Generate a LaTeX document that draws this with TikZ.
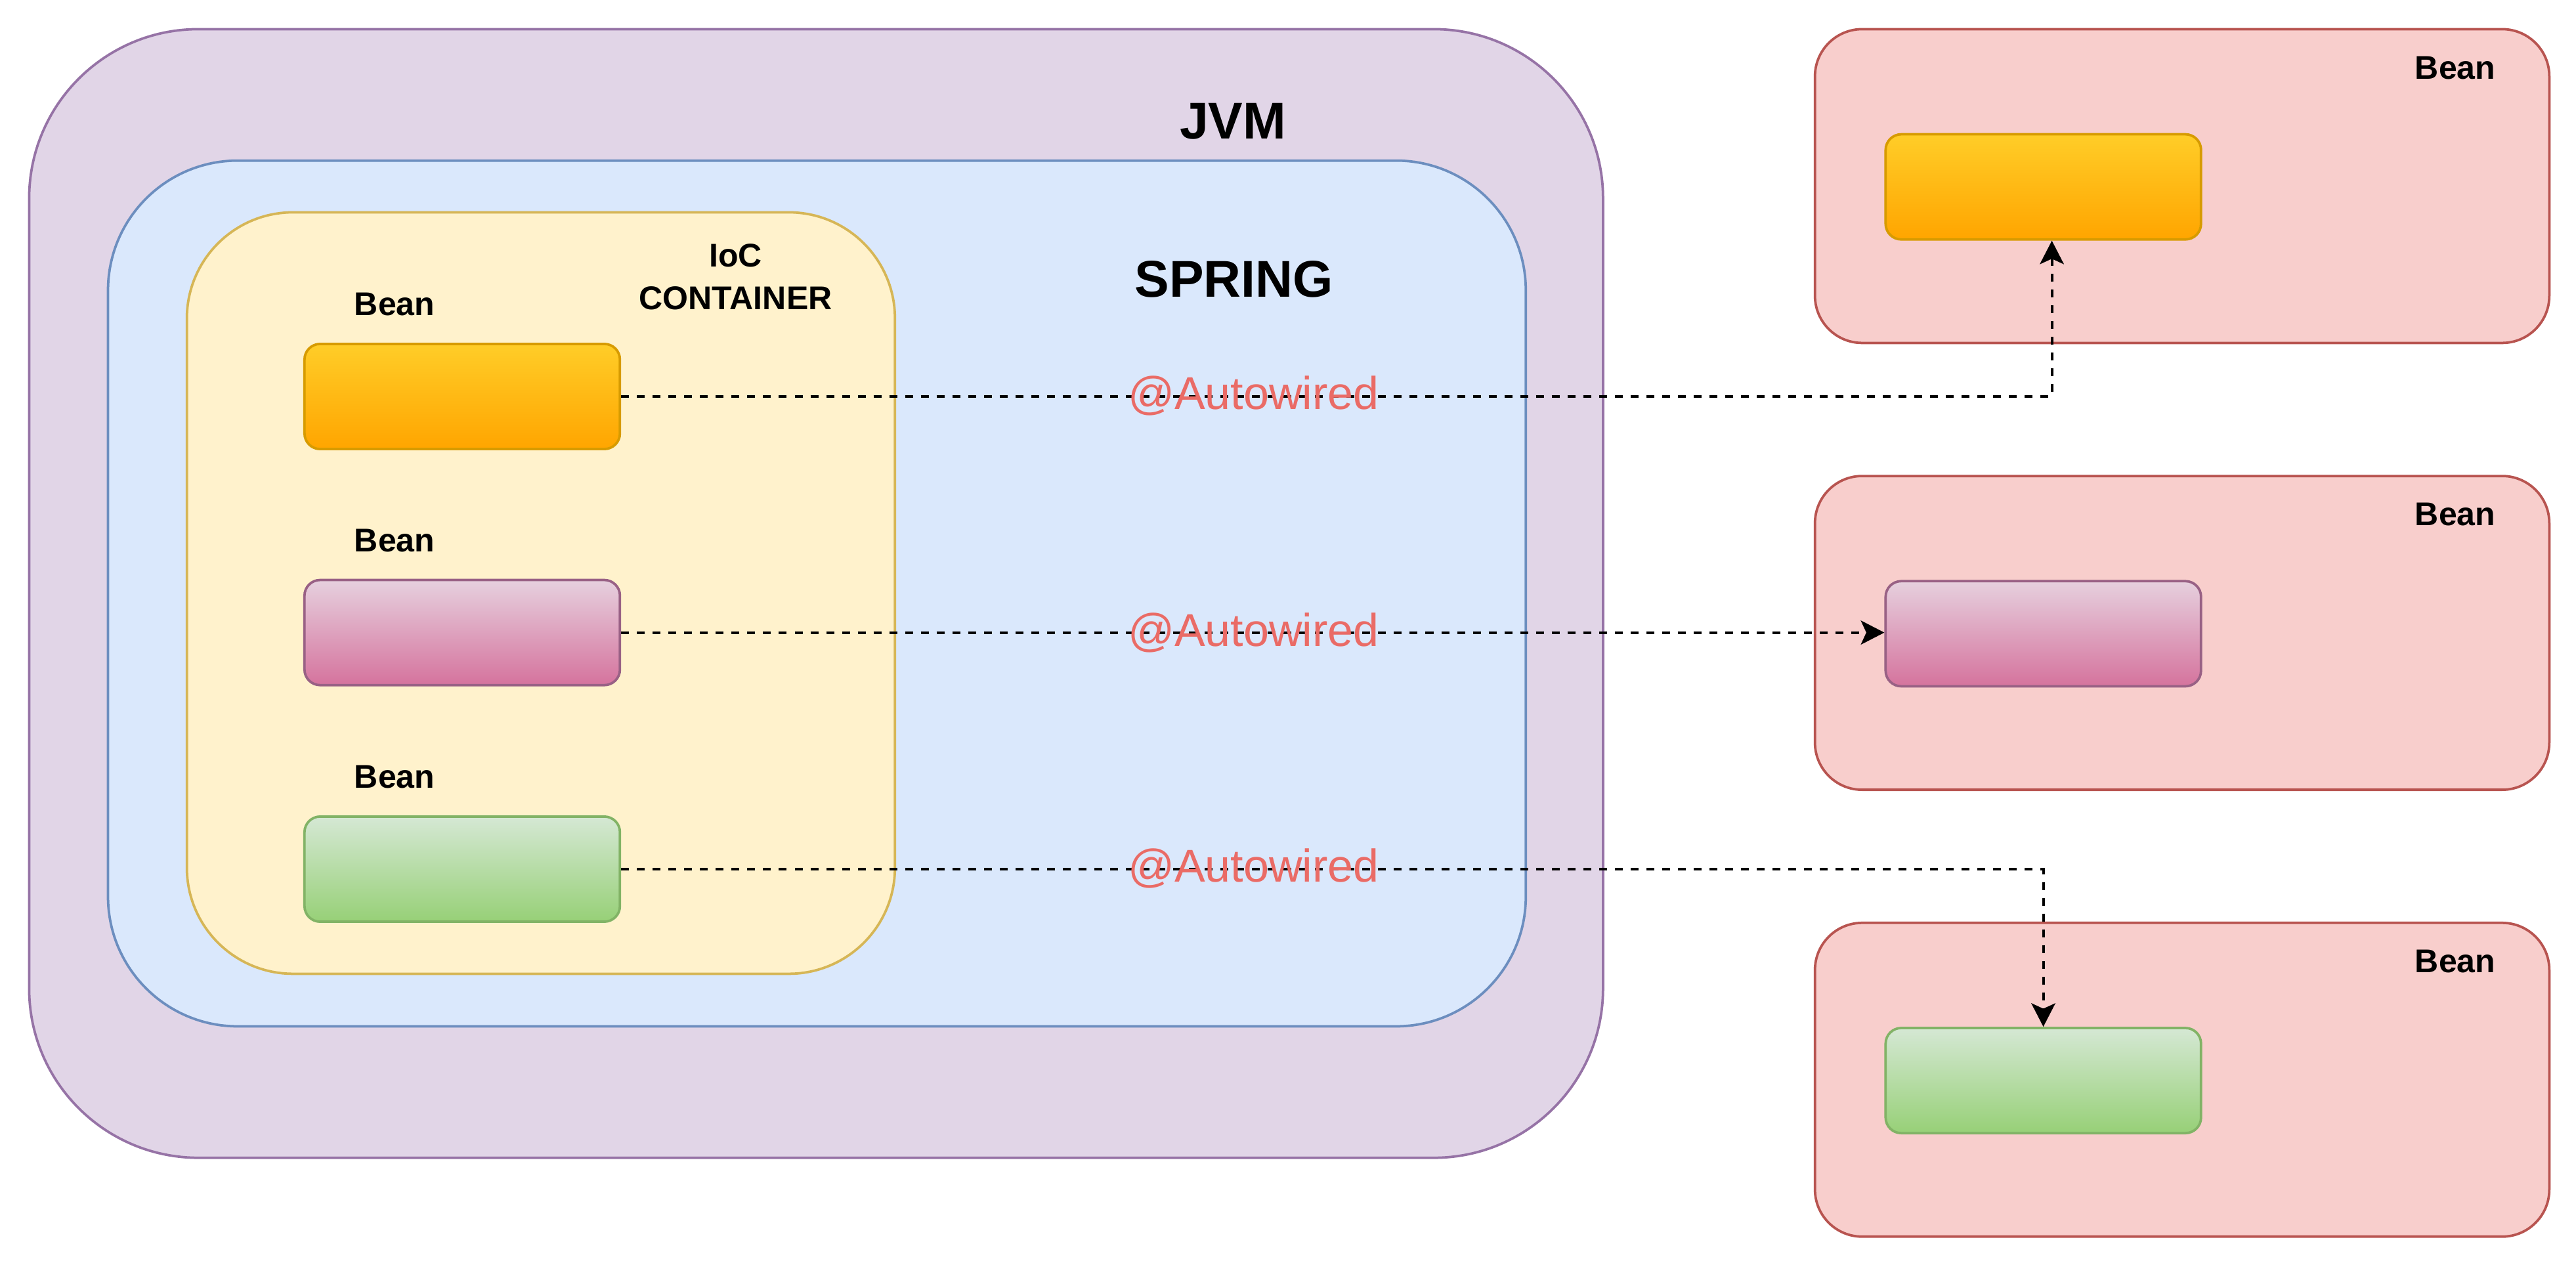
\documentclass[tikz,border=0pt]{standalone}
\usepackage{fontspec}
\setmainfont{Liberation Sans}
\usetikzlibrary{arrows.meta}

\definecolor{jvmfill}{HTML}{E1D5E7}
\definecolor{jvmline}{HTML}{9673A6}
\definecolor{springfill}{HTML}{DAE8FC}
\definecolor{springline}{HTML}{6C8EBF}
\definecolor{iocfill}{HTML}{FFF2CC}
\definecolor{iocline}{HTML}{D6B656}
\definecolor{holderfill}{HTML}{F8CECC}
\definecolor{holderline}{HTML}{B85450}
\definecolor{toporange}{HTML}{FFCD28}
\definecolor{botorange}{HTML}{FFA500}
\definecolor{lineorange}{HTML}{D79B00}
\definecolor{toppink}{HTML}{E6D0DE}
\definecolor{botpink}{HTML}{D5739D}
\definecolor{linepink}{HTML}{996185}
\definecolor{topgreen}{HTML}{D5E8D4}
\definecolor{botgreen}{HTML}{97D077}
\definecolor{linegreen}{HTML}{82B366}
\definecolor{wired}{HTML}{EA6B66}

\begin{document}
\begin{tikzpicture}[x=1pt, y=-1pt,
    box/.style={line width=1.5pt, inner sep=0pt, anchor=north west},
    bean/.style={box, rounded corners=9.5pt, minimum width=192pt, minimum height=64pt},
    holder/.style={box, draw=holderline, fill=holderfill, rounded corners=28.7pt,
        minimum width=447pt, minimum height=191pt},
    title/.style={font=\fontsize{20}{24}\selectfont\bfseries, anchor=base},
    big/.style={font=\fontsize{31.5}{36}\selectfont\bfseries, anchor=base},
    wire/.style={line width=1.6pt, dash pattern=on 4.8pt off 4.8pt,
        -{Stealth[length=14.3pt, width=14.6pt, inset=3.3pt]}},
    wiredlabel/.style={text=wired, font=\fontsize{28}{32}\selectfont, anchor=base}]
    \useasboundingbox (0,0) rectangle (1568,768.8);

    % containers
    \node[box, draw=jvmline, fill=jvmfill, rounded corners=103pt,
        minimum width=958pt, minimum height=687pt] (jvm) at (17,17) {};
    \node[box, draw=springline, fill=springfill, rounded corners=79pt,
        minimum width=863pt, minimum height=527pt] (spring) at (65,97) {};
    \node[box, draw=iocline, fill=iocfill, rounded corners=64.6pt,
        minimum width=431pt, minimum height=463.5pt] (ioc) at (113,128.5) {};

    \node[big] (jvm-label) at (750.5,84.6) {JVM};
    \node[big] (spring-label) at (751.2,181) {SPRING};
    \node[title] (ioc-label) at (447.8,162.6) {IoC};
    \node[title] (container-label) at (447.8,188.6) {CONTAINER};

    % beans in the container
    \foreach \nm/\y/\col in {a/208.6/orange, b/352.3/pink, c/496.3/green} {
        \node[bean, draw=line\col, top color=top\col, bottom color=bot\col] (\nm) at (184.6,\y) {};
        \node[title] (\nm-label) at (240.2,\y-16.5) {Bean};
    }

    % beans outside
    \foreach \nm/\y/\col in {d/17/orange, e/289/pink, f/561/green} {
        \node[holder] (\nm-holder) at (1104,\y) {};
        \node[bean, draw=line\col, top color=top\col, bottom color=bot\col] (\nm) at (1147,\y+64) {};
        \node[title] (\nm-label) at (1494.5,\y+31) {Bean};
    }

    % injection
    \draw[wire] (a.east) -| ([xshift=5.2pt]d.south);
    \draw[wire] (b.east) -- (b.east -| e.west);
    \draw[wire] (c.east) -| (f.north);

    \foreach \nm/\y in {a/249.1, b/393.2, c/537} 
    \node[wiredlabel] (\nm-wired) at (763,\y) {@Autowired};
\end{tikzpicture}
\end{document}
